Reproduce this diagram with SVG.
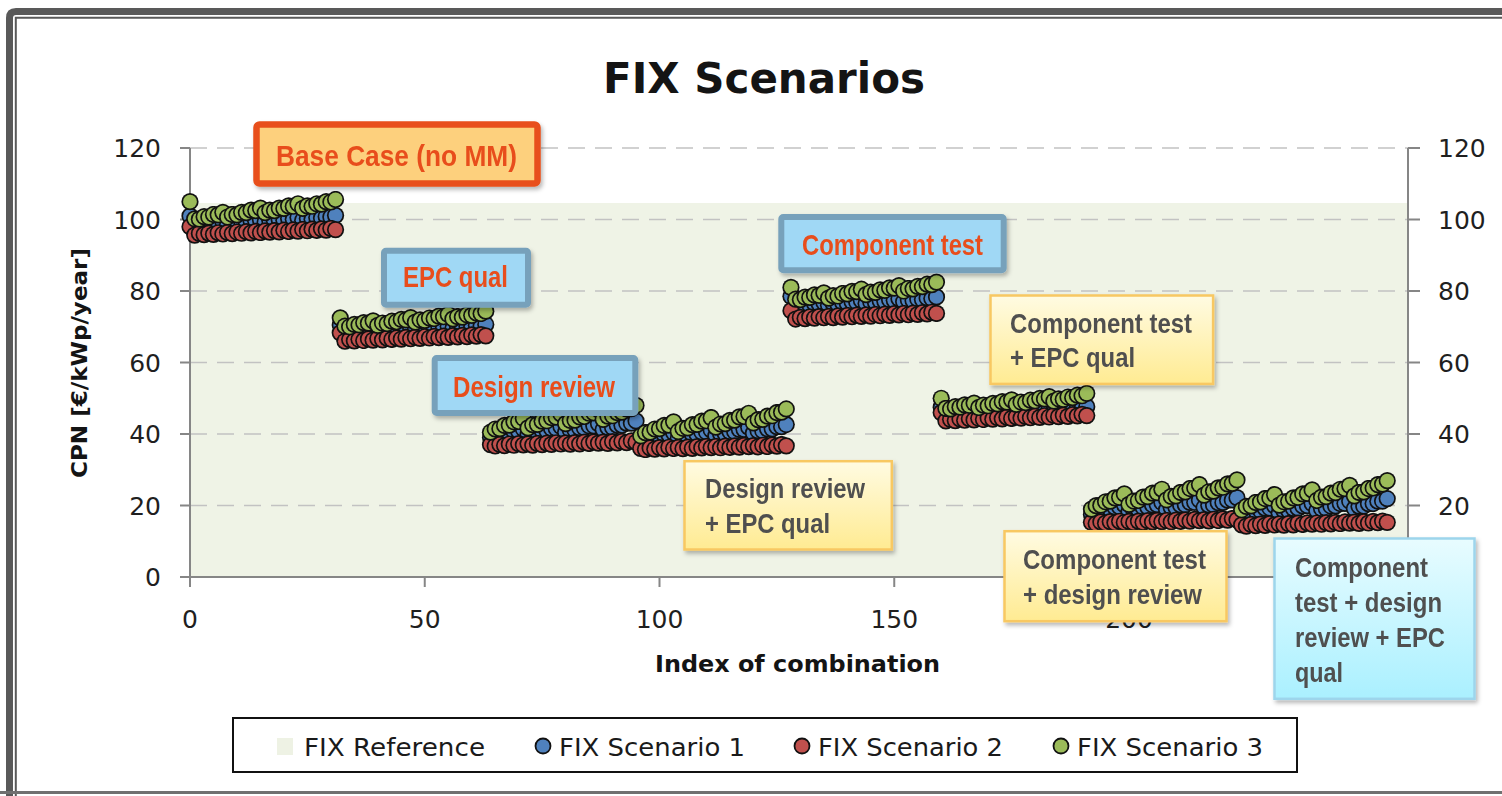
<svg xmlns="http://www.w3.org/2000/svg" width="1502" height="796" viewBox="0 0 1502 796">
  <style>
    .tk { font-family: "DejaVu Sans", Verdana, sans-serif; font-size: 25px; fill: #1f1f1f; }
    .ttl { font-family: "DejaVu Sans", Verdana, sans-serif; font-weight: bold; fill: #141414; }
    .ax { stroke: #868686; stroke-width: 2; fill: none; }
    .grid { stroke: #c2c2c2; stroke-width: 1.5; stroke-dasharray: 17 10; fill: none; }
    .pts { fill: none; stroke: none; }
    .pts.s1 { marker-start: url(#mb); marker-mid: url(#mb); marker-end: url(#mb); }
    .pts.s2 { marker-start: url(#mr); marker-mid: url(#mr); marker-end: url(#mr); }
    .pts.s3 { marker-start: url(#mg); marker-mid: url(#mg); marker-end: url(#mg); }
    .co-or { font-family: "Liberation Sans Narrow", "Liberation Sans", Arial, sans-serif; font-weight: bold; font-size: 30px; fill: #e84e1b; }
    .co-gr { font-family: "Liberation Sans Narrow", "Liberation Sans", Arial, sans-serif; font-weight: bold; font-size: 28px; fill: #4f4f4f; }
    .box-bl { fill: #a0d8f5; stroke: #77a1bb; stroke-width: 6; }
    .box-ye { fill: url(#gy); stroke: #f8c862; stroke-width: 2.5; }
    .leg { font-family: "DejaVu Sans", Verdana, sans-serif; font-size: 25px; fill: #1a1a1a; }
  </style>
  <defs>
    <!-- point markers, drawn in the scaled data space (x: 4.695 px/unit, y: 3.575 px/unit) -->
    <marker id="mb" markerUnits="userSpaceOnUse" markerWidth="4" markerHeight="5" refX="2" refY="2.5" orient="0">
      <ellipse cx="2" cy="2.5" rx="1.832" ry="2.406" fill="#111"/>
      <ellipse cx="2" cy="2.5" rx="1.47" ry="1.93" fill="#4f81bd"/>
    </marker>
    <marker id="mr" markerUnits="userSpaceOnUse" markerWidth="4" markerHeight="5" refX="2" refY="2.5" orient="0">
      <ellipse cx="2" cy="2.5" rx="1.832" ry="2.406" fill="#111"/>
      <ellipse cx="2" cy="2.5" rx="1.47" ry="1.93" fill="#c0504d"/>
    </marker>
    <marker id="mg" markerUnits="userSpaceOnUse" markerWidth="4" markerHeight="5" refX="2" refY="2.5" orient="0">
      <ellipse cx="2" cy="2.5" rx="1.832" ry="2.406" fill="#111"/>
      <ellipse cx="2" cy="2.5" rx="1.47" ry="1.93" fill="#9bbb59"/>
    </marker>
    <linearGradient id="gy" x1="0" y1="0" x2="0" y2="1">
      <stop offset="0" stop-color="#fffbe2"/>
      <stop offset="1" stop-color="#ffeb92"/>
    </linearGradient>
    <linearGradient id="gc" x1="0" y1="0" x2="0" y2="1">
      <stop offset="0" stop-color="#e8fcff"/>
      <stop offset="1" stop-color="#aaf0ff"/>
    </linearGradient>
    <filter id="sh" x="-10%" y="-10%" width="125%" height="130%">
      <feDropShadow dx="2" dy="3" stdDeviation="2" flood-color="#000" flood-opacity="0.28"/>
    </filter>
  </defs>

  <rect width="1502" height="796" fill="#ffffff"/>

  <!-- outer frame -->
  <g id="frame" fill="none" stroke="#595959">
    <path d="M9.5,796 V18 Q9.5,11.5 16,11.5 H1502" stroke-width="7"/>
    <path d="M15.8,796 V17.8 H1502" stroke-width="2"/>
    <path d="M0,792.5 H1502" stroke="#707070" stroke-width="3"/>
  </g>

  <text id="title" class="ttl" x="603" y="93" font-size="42" textLength="322" lengthAdjust="spacingAndGlyphs">FIX Scenarios</text>

  <!-- plot area -->
  <g id="plot">
    <rect id="fix-reference" x="190" y="203" width="1218" height="374" fill="#eff3e6"/>
    <g id="gridlines">
      <path class="grid" d="M190,148 H1408 M190,219.5 H1408 M190,291 H1408 M190,362.5 H1408 M190,434 H1408 M190,505.5 H1408"/>
    </g>
    <g id="axes">
      <path class="ax" d="M190,148 V577 H1408 V148"/>
      <path class="ax" d="M180,148 H190 M180,219.5 H190 M180,291 H190 M180,362.5 H190 M180,434 H190 M180,505.5 H190 M180,577 H190"/>
      <path class="ax" d="M1408,148 H1420 M1408,219.5 H1420 M1408,291 H1420 M1408,362.5 H1420 M1408,434 H1420 M1408,505.5 H1420 M1408,577 H1420"/>
      <path class="ax" d="M190,577 V587 M424.75,577 V587 M659.5,577 V587 M894.25,577 V587 M1129,577 V587"/>
    </g>
    <g id="y-labels-left" class="tk" text-anchor="end">
      <text x="161" y="157">120</text>
      <text x="161" y="228.5">100</text>
      <text x="161" y="300">80</text>
      <text x="161" y="371.5">60</text>
      <text x="161" y="443">40</text>
      <text x="161" y="514.5">20</text>
      <text x="161" y="586">0</text>
    </g>
    <g id="y-labels-right" class="tk">
      <text x="1438" y="157">120</text>
      <text x="1438" y="228.5">100</text>
      <text x="1438" y="300">80</text>
      <text x="1438" y="371.5">60</text>
      <text x="1438" y="443">40</text>
      <text x="1438" y="514.5">20</text>
    </g>
    <g id="x-labels" class="tk" text-anchor="middle">
      <text x="190" y="628">0</text>
      <text x="424.75" y="628">50</text>
      <text x="659.5" y="628">100</text>
      <text x="894.25" y="628">150</text>
      <text x="1129" y="628">200</text>
    </g>
    <text id="x-title" class="ttl" x="655" y="672" font-size="23" textLength="285" lengthAdjust="spacingAndGlyphs">Index of combination</text>
    <text id="y-title" class="ttl" font-size="21" text-anchor="middle" textLength="230" lengthAdjust="spacingAndGlyphs" transform="translate(87,363) rotate(-90)">CPN [€/kWp/year]</text>

    <!-- series: x = index of combination, y = CPN value -->
    <g id="series" transform="translate(190,577) scale(4.695,-3.575)">
      <path id="scenario-1" class="pts s1" d="M0,101l1,-2.55 1,-.15 1,.45 1,-.15 1,.45 1,-.15 1,.45 1,-.75 1,.45 1,-.15 1,.45 1,-.15 1,.45 1,-.15 1,.45 1,-.75 1,.45 1,-.15 1,.45 1,-.15 1,.45 1,-.15 1,.45 1,-.75 1,.45 1,-.15 1,.45 1,-.15 1,.45 1,-.15 1,.45
M32,70.5l1,-2.08 1,-.18 1,.42 1,-.18 1,.42 1,-.18 1,.42 1,-.64 1,.42 1,-.18 1,.42 1,-.18 1,.42 1,-.18 1,.42 1,-.64 1,.42 1,-.18 1,.42 1,-.18 1,.42 1,-.18 1,.42 1,-.64 1,.42 1,-.18 1,.42 1,-.18 1,.42 1,-.18 1,.42
M64,39l1,.6 1,0 1,.6 1,0 1,.6 1,0 1,.6 1,-1.65 1,.6 1,0 1,.6 1,0 1,.6 1,0 1,.6 1,-1.65 1,.6 1,0 1,.6 1,0 1,.6 1,0 1,.6 1,-1.65 1,.6 1,0 1,.6 1,0 1,.6 1,0 1,.6
M96,38l1,.6 1,0 1,.6 1,0 1,.6 1,0 1,.6 1,-1.65 1,.6 1,0 1,.6 1,0 1,.6 1,0 1,.6 1,-1.65 1,.6 1,0 1,.6 1,0 1,.6 1,0 1,.6 1,-1.65 1,.6 1,0 1,.6 1,0 1,.6 1,0 1,.6
M128,78.5l1,-2.55 1,-.15 1,.45 1,-.15 1,.45 1,-.15 1,.45 1,-.85 1,.45 1,-.15 1,.45 1,-.15 1,.45 1,-.15 1,.45 1,-.85 1,.45 1,-.15 1,.45 1,-.15 1,.45 1,-.15 1,.45 1,-.85 1,.45 1,-.15 1,.45 1,-.15 1,.45 1,-.15 1,.45
M160,47.5l1,-2.08 1,-.18 1,.42 1,-.18 1,.42 1,-.18 1,.42 1,-.64 1,.42 1,-.18 1,.42 1,-.18 1,.42 1,-.18 1,.42 1,-.64 1,.42 1,-.18 1,.42 1,-.18 1,.42 1,-.18 1,.42 1,-.64 1,.42 1,-.18 1,.42 1,-.18 1,.42 1,-.18 1,.42
M192,17.5l1,.65 1,.05 1,.65 1,.05 1,.65 1,.05 1,.65 1,-2.1 1,.65 1,.05 1,.65 1,.05 1,.65 1,.05 1,.65 1,-2.1 1,.65 1,.05 1,.65 1,.05 1,.65 1,.05 1,.65 1,-2.1 1,.65 1,.05 1,.65 1,.05 1,.65 1,.05 1,.65
M224,17.2l1,.65 1,.05 1,.65 1,.05 1,.65 1,.05 1,.65 1,-2.1 1,.65 1,.05 1,.65 1,.05 1,.65 1,.05 1,.65 1,-2.1 1,.65 1,.05 1,.65 1,.05 1,.65 1,.05 1,.65 1,-2.1 1,.65 1,.05 1,.65 1,.05 1,.65 1,.05 1,.65"/>
      <path id="scenario-2" class="pts s2" d="M0,98l1,-2.35 1,.45 1,-.35 1,.45 1,-.35 1,.45 1,-.35 1,.45 1,-.35 1,.45 1,-.35 1,.45 1,-.35 1,.45 1,-.35 1,.45 1,-.35 1,.45 1,-.35 1,.45 1,-.35 1,.45 1,-.35 1,.45 1,-.35 1,.45 1,-.35 1,.45 1,-.35 1,.45 1,-.35
M32,68.3l1,-2.35 1,.45 1,-.35 1,.45 1,-.35 1,.45 1,-.35 1,.45 1,-.35 1,.45 1,-.35 1,.45 1,-.35 1,.45 1,-.35 1,.45 1,-.35 1,.45 1,-.35 1,.45 1,-.35 1,.45 1,-.35 1,.45 1,-.35 1,.45 1,-.35 1,.45 1,-.35 1,.45 1,-.35
M64,37l1,-.35 1,.45 1,-.35 1,.45 1,-.35 1,.45 1,-.35 1,.3 1,-.35 1,.45 1,-.35 1,.45 1,-.35 1,.45 1,-.35 1,.3 1,-.35 1,.45 1,-.35 1,.45 1,-.35 1,.45 1,-.35 1,.3 1,-.35 1,.45 1,-.35 1,.45 1,-.35 1,.45 1,-.35
M96,36l1,-.35 1,.45 1,-.35 1,.45 1,-.35 1,.45 1,-.35 1,.3 1,-.35 1,.45 1,-.35 1,.45 1,-.35 1,.45 1,-.35 1,.3 1,-.35 1,.45 1,-.35 1,.45 1,-.35 1,.45 1,-.35 1,.3 1,-.35 1,.45 1,-.35 1,.45 1,-.35 1,.45 1,-.35
M128,74.5l1,-2.34 1,.46 1,-.34 1,.46 1,-.34 1,.46 1,-.34 1,.38 1,-.34 1,.46 1,-.34 1,.46 1,-.34 1,.46 1,-.34 1,.38 1,-.34 1,.46 1,-.34 1,.46 1,-.34 1,.46 1,-.34 1,.38 1,-.34 1,.46 1,-.34 1,.46 1,-.34 1,.46 1,-.34
M160,46l1,-2.35 1,.45 1,-.35 1,.45 1,-.35 1,.45 1,-.35 1,.45 1,-.35 1,.45 1,-.35 1,.45 1,-.35 1,.45 1,-.35 1,.45 1,-.35 1,.45 1,-.35 1,.45 1,-.35 1,.45 1,-.35 1,.45 1,-.35 1,.45 1,-.35 1,.45 1,-.35 1,.45 1,-.35
M192,15.3l1,-.35 1,.45 1,-.35 1,.45 1,-.35 1,.45 1,-.35 1,.3 1,-.35 1,.45 1,-.35 1,.45 1,-.35 1,.45 1,-.35 1,.3 1,-.35 1,.45 1,-.35 1,.45 1,-.35 1,.45 1,-.35 1,.3 1,-.35 1,.45 1,-.35 1,.45 1,-.35 1,.45 1,-.35
M224,14.6l1,-.35 1,.45 1,-.35 1,.45 1,-.35 1,.45 1,-.35 1,.3 1,-.35 1,.45 1,-.35 1,.45 1,-.35 1,.45 1,-.35 1,.3 1,-.35 1,.45 1,-.35 1,.45 1,-.35 1,.45 1,-.35 1,.3 1,-.35 1,.45 1,-.35 1,.45 1,-.35 1,.45 1,-.35"/>
      <path id="scenario-3" class="pts s3" d="M0,105l1,-4.8 1,-.1 1,.7 1,-.1 1,.7 1,-.1 1,.7 1,-1.3 1,.7 1,-.1 1,.7 1,-.1 1,.7 1,-.1 1,.7 1,-1.3 1,.7 1,-.1 1,.7 1,-.1 1,.7 1,-.1 1,.7 1,-1.3 1,.7 1,-.1 1,.7 1,-.1 1,.7 1,-.1 1,.7
M32,72.5l1,-2.35 1,-.15 1,.65 1,-.15 1,.65 1,-.15 1,.65 1,-1.25 1,.65 1,-.15 1,.65 1,-.15 1,.65 1,-.15 1,.65 1,-1.25 1,.65 1,-.15 1,.65 1,-.15 1,.65 1,-.15 1,.65 1,-1.25 1,.65 1,-.15 1,.65 1,-.15 1,.65 1,-.15 1,.65
M64,40.5l1,.9 1,.1 1,.9 1,.1 1,.9 1,.1 1,.9 1,-2.7 1,.9 1,.1 1,.9 1,.1 1,.9 1,.1 1,.9 1,-2.7 1,.9 1,.1 1,.9 1,.1 1,.9 1,.1 1,.9 1,-2.7 1,.9 1,.1 1,.9 1,.1 1,.9 1,.1 1,.9
M96,39.5l1,.9 1,.1 1,.9 1,.1 1,.9 1,.1 1,.9 1,-2.7 1,.9 1,.1 1,.9 1,.1 1,.9 1,.1 1,.9 1,-2.7 1,.9 1,.1 1,.9 1,.1 1,.9 1,.1 1,.9 1,-2.7 1,.9 1,.1 1,.9 1,.1 1,.9 1,.1 1,.9
M128,81l1,-3.3 1,-.1 1,.7 1,-.1 1,.7 1,-.1 1,.7 1,-1.5 1,.7 1,-.1 1,.7 1,-.1 1,.7 1,-.1 1,.7 1,-1.5 1,.7 1,-.1 1,.7 1,-.1 1,.7 1,-.1 1,.7 1,-1.5 1,.7 1,-.1 1,.7 1,-.1 1,.7 1,-.1 1,.7
M160,50l1,-2.85 1,-.15 1,.65 1,-.15 1,.65 1,-.15 1,.65 1,-1.25 1,.65 1,-.15 1,.65 1,-.15 1,.65 1,-.15 1,.65 1,-1.25 1,.65 1,-.15 1,.65 1,-.15 1,.65 1,-.15 1,.65 1,-1.25 1,.65 1,-.15 1,.65 1,-.15 1,.65 1,-.15 1,.65
M192,19l1,.95 1,.15 1,.95 1,.15 1,.95 1,.15 1,.95 1,-2.95 1,.95 1,.15 1,.95 1,.15 1,.95 1,.15 1,.95 1,-2.95 1,.95 1,.15 1,.95 1,.15 1,.95 1,.15 1,.95 1,-2.95 1,.95 1,.15 1,.95 1,.15 1,.95 1,.15 1,.95
M224,18.8l1,.95 1,.15 1,.95 1,.15 1,.95 1,.15 1,.95 1,-2.95 1,.95 1,.15 1,.95 1,.15 1,.95 1,.15 1,.95 1,-2.95 1,.95 1,.15 1,.95 1,.15 1,.95 1,.15 1,.95 1,-2.95 1,.95 1,.15 1,.95 1,.15 1,.95 1,.15 1,.95"/>
    </g>
  </g>

  <!-- callout labels -->
  <g id="callout-base-case" filter="url(#sh)">
    <rect x="256.5" y="124.5" width="281" height="59" rx="3" fill="#fdd07d" stroke="#e8501a" stroke-width="6.5"/>
    <text class="co-or" x="276" y="166" textLength="241" lengthAdjust="spacingAndGlyphs">Base Case (no MM)</text>
  </g>
  <g id="callout-epc-qual" filter="url(#sh)">
    <rect class="box-bl" x="384" y="250.7" width="144" height="54" rx="2"/>
    <text class="co-or" x="403" y="287" textLength="105" lengthAdjust="spacingAndGlyphs">EPC qual</text>
  </g>
  <g id="callout-design-review" filter="url(#sh)">
    <rect class="box-bl" x="434.7" y="358" width="200.6" height="55" rx="2"/>
    <text class="co-or" x="453" y="396.5" textLength="162" lengthAdjust="spacingAndGlyphs">Design review</text>
  </g>
  <g id="callout-component-test" filter="url(#sh)">
    <rect class="box-bl" x="781.3" y="217" width="222.4" height="53.3" rx="2"/>
    <text class="co-or" x="802" y="255" textLength="181" lengthAdjust="spacingAndGlyphs">Component test</text>
  </g>
  <g id="callout-ct-epc" filter="url(#sh)">
    <rect class="box-ye" x="990.5" y="295.5" width="222.6" height="88.4"/>
    <text class="co-gr" x="1010" y="333" textLength="182" lengthAdjust="spacingAndGlyphs">Component test</text>
    <text class="co-gr" x="1010" y="367" textLength="125" lengthAdjust="spacingAndGlyphs">+ EPC qual</text>
  </g>
  <g id="callout-dr-epc" filter="url(#sh)">
    <rect class="box-ye" x="684.5" y="461.2" width="207.3" height="88.3"/>
    <text class="co-gr" x="705" y="498" textLength="160" lengthAdjust="spacingAndGlyphs">Design review</text>
    <text class="co-gr" x="705" y="533" textLength="125" lengthAdjust="spacingAndGlyphs">+ EPC qual</text>
  </g>
  <g id="callout-ct-dr" filter="url(#sh)">
    <rect class="box-ye" x="1004.5" y="531.2" width="222" height="90"/>
    <text class="co-gr" x="1023" y="569" textLength="183" lengthAdjust="spacingAndGlyphs">Component test</text>
    <text class="co-gr" x="1023" y="604" textLength="179" lengthAdjust="spacingAndGlyphs">+ design review</text>
  </g>
  <g id="callout-ct-dr-epc" filter="url(#sh)">
    <rect x="1274.5" y="538.5" width="200" height="160.3" fill="url(#gc)" stroke="#9dd5ec" stroke-width="2.5"/>
    <text class="co-gr" x="1295" y="577" textLength="133" lengthAdjust="spacingAndGlyphs">Component</text>
    <text class="co-gr" x="1295" y="612" textLength="147" lengthAdjust="spacingAndGlyphs">test + design</text>
    <text class="co-gr" x="1295" y="647" textLength="150" lengthAdjust="spacingAndGlyphs">review + EPC</text>
    <text class="co-gr" x="1295" y="682" textLength="48" lengthAdjust="spacingAndGlyphs">qual</text>
  </g>

  <!-- legend -->
  <g id="legend">
    <rect x="233" y="718" width="1064" height="54" fill="#ffffff" stroke="#111" stroke-width="2"/>
    <rect x="277" y="738" width="16" height="17" fill="#eef2e4"/>
    <text class="leg" x="304" y="756" textLength="181" lengthAdjust="spacingAndGlyphs">FIX Reference</text>
    <circle cx="543" cy="746" r="7.5" fill="#4f81bd" stroke="#111" stroke-width="1.8"/>
    <text class="leg" x="559" y="756" textLength="186" lengthAdjust="spacingAndGlyphs">FIX Scenario 1</text>
    <circle cx="802" cy="746" r="7.5" fill="#c0504d" stroke="#111" stroke-width="1.8"/>
    <text class="leg" x="818" y="756" textLength="185" lengthAdjust="spacingAndGlyphs">FIX Scenario 2</text>
    <circle cx="1061" cy="746" r="7.5" fill="#9bbb59" stroke="#111" stroke-width="1.8"/>
    <text class="leg" x="1077" y="756" textLength="186" lengthAdjust="spacingAndGlyphs">FIX Scenario 3</text>
  </g>
</svg>
